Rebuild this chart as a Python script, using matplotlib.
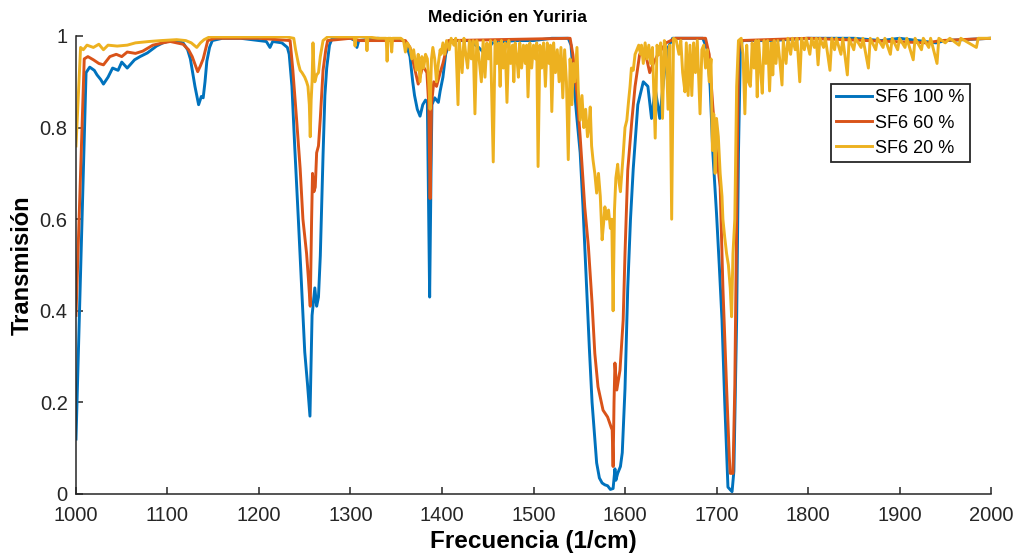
import matplotlib
matplotlib.use('Agg')
import matplotlib.pyplot as plt

plt.rcParams['font.family'] = ['Liberation Sans', 'DejaVu Sans']

# SF6 100 %
x_100 = [1000, 1011, 1015, 1020, 1023, 1027, 1030, 1035, 1040, 1046, 1050, 1056, 1064, 1070,
         1078, 1088, 1095, 1103, 1110, 1117, 1122, 1125, 1130, 1134, 1137, 1139, 1141, 1143,
         1146, 1149, 1160, 1180, 1200, 1208, 1212, 1215, 1225, 1231, 1233, 1236, 1239, 1243,
         1246.6, 1250, 1253, 1255.7, 1258, 1261, 1263, 1265, 1267, 1270, 1272, 1274, 1277,
         1280, 1300, 1305, 1307, 1309, 1330, 1358, 1362, 1365, 1368, 1370, 1373, 1376, 1379,
         1382, 1384, 1385.5, 1386.5, 1388, 1389, 1392, 1396, 1398, 1401, 1404, 1409, 1430,
         1440, 1445, 1450, 1455, 1480, 1500, 1520, 1538, 1541, 1544, 1547, 1551, 1554, 1558,
         1561, 1564, 1567, 1569, 1572, 1575, 1578, 1581, 1584, 1587, 1589, 1590, 1592, 1595,
         1597, 1600, 1603, 1606, 1609, 1614, 1620, 1625, 1629, 1633, 1638, 1642, 1646, 1652,
         1685, 1690, 1693, 1696, 1700, 1703, 1706, 1709, 1712.5, 1717, 1719, 1722, 1724, 1726,
         1728, 1760, 1800, 1850, 1880, 1900, 1940, 1950, 2000]
y_100 = [0.12, 0.92, 0.932, 0.925, 0.915, 0.905, 0.895, 0.91, 0.93, 0.925, 0.943, 0.93, 0.948, 0.955,
         0.963, 0.978, 0.985, 0.99, 0.988, 0.985, 0.97, 0.95, 0.89, 0.85, 0.868, 0.865, 0.9, 0.945,
         0.975, 0.99, 0.995, 0.995, 0.99, 0.988, 0.975, 0.988, 0.985, 0.975, 0.96, 0.89, 0.76, 0.6,
         0.45, 0.31, 0.24, 0.17, 0.39, 0.45, 0.41, 0.43, 0.52, 0.74, 0.87, 0.93, 0.98,
         0.995, 0.995, 0.99, 0.975, 0.99, 0.995, 0.99, 0.975, 0.955, 0.9, 0.87, 0.84, 0.825, 0.85,
         0.86, 0.855, 0.6, 0.43, 0.7, 0.85, 0.865, 0.855, 0.88, 0.91, 0.96, 0.99, 0.99,
         0.975, 0.965, 0.97, 0.985, 0.99, 0.99, 0.995, 0.995, 0.98, 0.9, 0.83, 0.745, 0.63, 0.45,
         0.32, 0.2, 0.12, 0.068, 0.035, 0.024, 0.02, 0.018, 0.01, 0.012, 0.055, 0.03, 0.045, 0.06,
         0.09, 0.23, 0.45, 0.6, 0.71, 0.85, 0.9, 0.89, 0.82, 0.885, 0.82, 0.9, 0.97, 0.995,
         0.995, 0.97, 0.89, 0.745, 0.613, 0.5, 0.38, 0.2, 0.015, 0.005, 0.05, 0.38, 0.745, 0.96,
         0.99, 0.99, 0.995, 0.995, 0.99, 0.995, 0.985, 0.99, 0.995]

# SF6 60 %
x_60 = [1000, 1009, 1013, 1019, 1025, 1030, 1037, 1044, 1050, 1056, 1065, 1073, 1084, 1095,
        1103, 1117, 1123, 1127, 1133, 1136, 1139, 1144, 1152, 1200, 1234, 1237, 1241, 1245,
        1248, 1252, 1254, 1256, 1257.5, 1258.5, 1260, 1261.5, 1263, 1265, 1267, 1270, 1273,
        1275, 1300, 1310, 1360, 1365, 1370, 1374, 1379, 1383.5, 1385.5, 1387, 1388.5, 1391,
        1394, 1398, 1401, 1407, 1540, 1543, 1547.5, 1551, 1556, 1560, 1564, 1567, 1570.5,
        1576, 1581, 1585, 1586, 1587, 1588, 1589, 1591, 1594.5, 1598, 1600, 1603, 1607.5,
        1611, 1616, 1622, 1627, 1631, 1636, 1645, 1655, 1688, 1692, 1696, 1700, 1704, 1707,
        1711, 1714, 1715, 1718, 1720, 1722, 1724, 1725.5, 1800, 1930, 1945, 2000]
y_60 = [0.39, 0.95, 0.955, 0.948, 0.94, 0.937, 0.955, 0.96, 0.955, 0.965, 0.962, 0.967, 0.98, 0.985,
        0.988, 0.982, 0.97, 0.955, 0.922, 0.935, 0.95, 0.99, 0.995, 0.995, 0.99, 0.925, 0.82, 0.71,
        0.6, 0.525, 0.47, 0.41, 0.6, 0.7, 0.66, 0.67, 0.745, 0.76, 0.82, 0.925, 0.97,
        0.99, 0.995, 0.99, 0.99, 0.975, 0.93, 0.895, 0.935, 0.92, 0.85, 0.645, 0.85, 0.9,
        0.89, 0.92, 0.94, 0.99, 0.995, 0.96, 0.875, 0.78, 0.627, 0.54, 0.417, 0.307, 0.234,
        0.183, 0.168, 0.145, 0.14, 0.06, 0.2, 0.286, 0.227, 0.27, 0.38, 0.525, 0.707, 0.816,
        0.89, 0.96, 0.965, 0.92, 0.94, 0.96, 0.985, 0.995, 0.995, 0.96, 0.845, 0.745, 0.67, 0.45,
        0.234, 0.08, 0.045, 0.045, 0.234, 0.6, 0.96, 0.99, 0.995, 0.985, 0.99, 0.995]

# SF6 20 %
x_20 = [1000, 1005, 1008, 1012, 1019, 1025, 1030, 1035, 1045, 1056, 1065, 1080, 1093, 1110,
        1120, 1126, 1132, 1136, 1140, 1146, 1200, 1230, 1238, 1240, 1243, 1245, 1247, 1250,
        1252, 1253.5, 1255, 1256, 1257, 1258, 1259, 1260, 1261, 1263, 1265, 1267, 1270, 1275,
        1300, 1304, 1305, 1306, 1317, 1318, 1319, 1330, 1339, 1340, 1341, 1344, 1345, 1346,
        1355, 1358, 1360, 1362, 1365, 1367, 1369, 1372, 1374, 1376, 1378, 1380, 1382, 1384,
        1385.5, 1387, 1388.5, 1390, 1392, 1394, 1396, 1398, 1399, 1401, 1403, 1405, 1408, 1410,
        1413, 1415, 1417.5, 1419, 1422, 1424, 1426, 1428, 1430, 1432, 1434, 1436, 1438, 1440,
        1443, 1445, 1447, 1449, 1451, 1453, 1456, 1458, 1460, 1462, 1463.5, 1465, 1467, 1469,
        1471, 1473, 1475, 1477, 1478.5, 1480, 1482, 1483.5, 1485, 1487, 1489, 1491, 1492.5,
        1494, 1496, 1498, 1500, 1502, 1503.5, 1505, 1507, 1509, 1511, 1513, 1515, 1517, 1518.5,
        1520, 1522, 1524, 1526, 1528, 1530, 1532, 1534, 1536, 1538, 1540, 1542, 1543.5, 1545,
        1547.5, 1549, 1551, 1553, 1555, 1557, 1559, 1560.5, 1562, 1563.5, 1565, 1567, 1569,
        1571, 1573, 1575, 1577, 1578, 1580, 1582, 1584, 1585.5, 1587, 1588.5, 1590, 1592,
        1593.5, 1595, 1596.5, 1598, 1600, 1602, 1604, 1605.5, 1607, 1609, 1611, 1613, 1615,
        1617, 1618, 1620, 1622, 1624, 1626, 1628, 1630, 1633, 1635, 1637, 1639, 1641, 1643,
        1645, 1647, 1649, 1651, 1653, 1656, 1659, 1661, 1663, 1665.5, 1667, 1669, 1671, 1673,
        1675, 1677, 1679, 1682, 1684, 1686, 1688, 1690, 1692, 1694, 1695.5, 1697, 1698.5, 1700,
        1702, 1704, 1706, 1707, 1709, 1711, 1713, 1715, 1716.5, 1718, 1720, 1722, 1724, 1727,
        1729, 1731, 1733, 1735, 1737, 1739, 1741, 1743, 1744.5, 1746, 1748, 1750, 1752, 1754,
        1756, 1758, 1760, 1761.5, 1763, 1765, 1767, 1769, 1771.6, 1773, 1776, 1778, 1781, 1783,
        1786, 1788, 1791, 1793, 1796, 1798, 1802, 1804, 1807, 1809, 1811, 1813, 1817, 1819,
        1824, 1826, 1829, 1831, 1836, 1838, 1843, 1845, 1850, 1852, 1858, 1860, 1866, 1868,
        1874, 1876, 1882, 1884, 1890, 1892, 1898, 1900, 1906, 1908, 1915, 1917, 1924, 1926,
        1932, 1934, 1941, 1943, 1950, 1955, 1965, 1967, 1984, 1986, 2000]
y_20 = [0.76, 0.975, 0.97, 0.98, 0.975, 0.982, 0.97, 0.98, 0.978, 0.98, 0.985, 0.988, 0.99, 0.992,
        0.99, 0.985, 0.975, 0.985, 0.992, 0.998, 0.998, 0.998, 0.995, 0.97, 0.94, 0.925, 0.92, 0.91,
        0.9, 0.89, 0.85, 0.78, 0.86, 0.9, 0.985, 0.93, 0.9, 0.915, 0.92, 0.955, 0.99, 0.998,
        0.998, 0.998, 0.978, 0.998, 0.998, 0.968, 0.998, 0.995, 0.995, 0.945, 0.995, 0.995, 0.965, 0.995,
        0.995, 0.99, 0.965, 0.985, 0.975, 0.95, 0.97, 0.925, 0.96, 0.9, 0.955, 0.93, 0.96, 0.95,
        0.9, 0.84, 0.95, 0.975, 0.95, 0.9, 0.94, 0.97, 0.96, 0.985, 0.96, 0.99, 0.97, 0.995,
        0.98, 0.995, 0.85, 0.99, 0.92, 0.995, 0.96, 0.93, 0.99, 0.95, 0.99, 0.83, 0.99, 0.96,
        0.9, 0.99, 0.91, 0.985, 0.95, 0.99, 0.725, 0.99, 0.94, 0.985, 0.89, 0.99, 0.93, 0.985,
        0.855, 0.99, 0.94, 0.98, 0.9, 0.985, 0.95, 0.91, 0.985, 0.93, 0.98, 0.94, 0.98,
        0.867, 0.985, 0.93, 0.98, 0.95, 0.985, 0.715, 0.98, 0.93, 0.985, 0.89, 0.985, 0.94, 0.98,
        0.835, 0.985, 0.92, 0.97, 0.9, 0.975, 0.865, 0.97, 0.9, 0.73, 0.95, 0.85, 0.94, 0.9,
        0.975, 0.88, 0.816, 0.87, 0.8, 0.84, 0.78, 0.8, 0.845, 0.76, 0.73, 0.7, 0.657,
        0.7, 0.65, 0.555, 0.6, 0.627, 0.6, 0.62, 0.58, 0.6, 0.4, 0.62, 0.69, 0.72,
        0.68, 0.66, 0.7, 0.74, 0.8, 0.816, 0.86, 0.89, 0.93, 0.925, 0.96, 0.97, 0.98,
        0.96, 0.98, 0.94, 0.985, 0.95, 0.98, 0.94, 0.975, 0.777, 0.98, 0.96, 0.985, 0.82, 0.99,
        0.97, 0.84, 0.98, 0.6, 0.995, 0.99, 0.96, 0.99, 0.92, 0.878, 0.985, 0.87, 0.98, 0.87,
        0.985, 0.92, 0.99, 0.83, 0.97, 0.98, 0.93, 0.97, 0.9, 0.95, 0.75, 0.83, 0.7, 0.82,
        0.78, 0.7, 0.65, 0.6, 0.56, 0.525, 0.5, 0.45, 0.387, 0.525, 0.6, 0.89, 0.99, 0.995,
        0.96, 0.83, 0.98, 0.9, 0.89, 0.985, 0.93, 0.99, 0.867, 0.99, 0.93, 0.875, 0.99, 0.94,
        0.99, 0.88, 0.985, 0.915, 0.99, 0.94, 0.99, 0.95, 0.893, 0.99, 0.94, 0.995, 0.96, 0.995,
        0.97, 0.995, 0.9, 0.995, 0.97, 0.995, 0.96, 0.995, 0.975, 0.995, 0.937, 0.995, 0.975, 0.995,
        0.925, 0.995, 0.97, 0.995, 0.96, 0.995, 0.915, 0.995, 0.97, 0.995, 0.975, 0.995, 0.93, 0.995,
        0.97, 0.995, 0.975, 0.995, 0.96, 0.995, 0.97, 0.995, 0.975, 0.995, 0.948, 0.995, 0.97, 0.995,
        0.975, 0.995, 0.94, 0.995, 0.985, 0.995, 0.98, 0.995, 0.975, 0.995, 0.995]

labels = ['SF6 100 %', 'SF6 60 %', 'SF6 20 %']
colors = ['#0072BD', '#D95319', '#EDB120']

fig = plt.figure(figsize=(10.16, 5.58), dpi=100)
ax = fig.add_axes([0.0748, 0.1147, 0.9006, 0.8208])

for xs, ys, lab, col in zip([x_100, x_60, x_20], [y_100, y_60, y_20], labels, colors):
    ax.plot(xs, ys, color=col, lw=2.1, label=lab)

ax.set_xlim(1000, 2000)
ax.set_ylim(0, 1)
ax.set_xticks(range(1000, 2001, 100))
ax.set_yticks([0, 0.2, 0.4, 0.6, 0.8, 1])
ax.set_yticklabels(['0', '0.2', '0.4', '0.6', '0.8', '1'])

for s in ['top', 'right']:
    ax.spines[s].set_visible(False)
for s in ['left', 'bottom']:
    ax.spines[s].set_color('#262626')
    ax.spines[s].set_linewidth(1.1)
ax.tick_params(direction='in', length=5, width=1.1, colors='#262626', labelsize=14.5)
ax.tick_params(axis='x', pad=9)
ax.tick_params(axis='y', pad=6)

ax.set_title('Medición en Yuriria', fontsize=12.5, fontweight='bold', x=0.471, pad=10)
ax.set_xlabel('Frecuencia (1/cm)', fontsize=17.5, fontweight='bold', labelpad=3)
ax.set_ylabel('Transmisión', fontsize=17, fontweight='bold', labelpad=4)

leg = ax.legend(loc='upper right', bbox_to_anchor=(0.977, 0.895), fontsize=13,
                fancybox=False, framealpha=1, edgecolor='#262626', handlelength=1.95,
                handletextpad=0.2, labelspacing=0.45, borderpad=0.3, borderaxespad=0)
leg.get_frame().set_linewidth(1.3)

fig.savefig('out.png', dpi=100)
